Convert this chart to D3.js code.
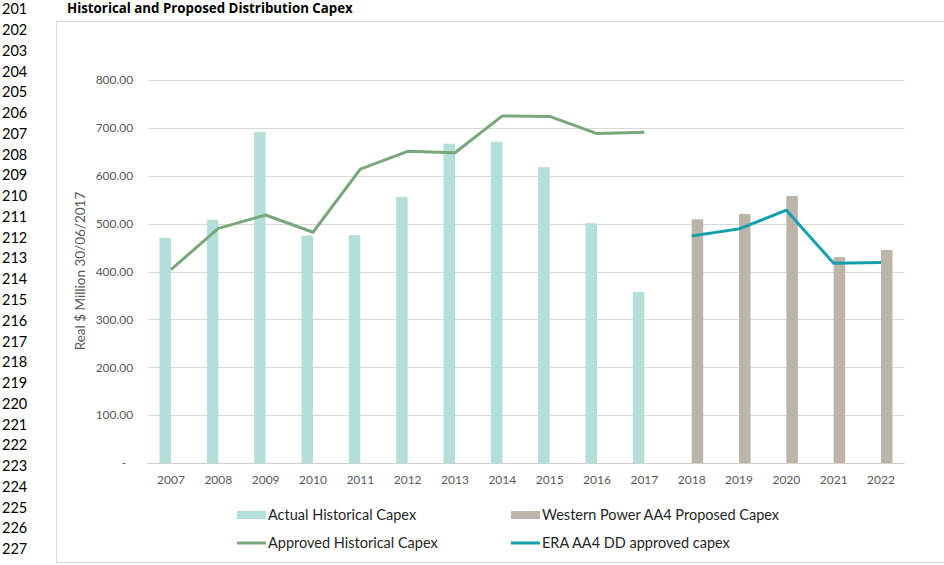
<!DOCTYPE html>
<html>
<head>
<meta charset="utf-8">
<script src="https://cdn.jsdelivr.net/npm/d3@7"></script>
<style>
  html, body { margin: 0; padding: 0; background: #fff; }
  svg { display: block; font-family: Lato, "Open Sans", sans-serif; }
</style>
</head>
<body>
<svg id="chart" width="944" height="565"></svg>
<script>
// Financial years shown on the category axis
const years = ["2007","2008","2009","2010","2011","2012","2013","2014","2015","2016","2017","2018","2019","2020","2021","2022"];

// Actual historical distribution capex (2007–2017)
const actualCapex = [470, 508, 691, 475, 476, 556, 667, 671, 618, 501, 357, null, null, null, null, null];

// Western Power AA4 proposed capex (2018–2022)
const proposedCapex = [null, null, null, null, null, null, null, null, null, null, null, 509, 520, 558, 430, 445];

// Approved historical capex (2007–2017)
const approvedCapex = [404, 490, 518, 482, 614, 651, 648, 725, 724, 688, 691, null, null, null, null, null];

// ERA AA4 draft decision approved capex (2018–2022)
const eraCapex = [null, null, null, null, null, null, null, null, null, null, null, 474, 489, 528, 417, 419];

// Value axis ticks
const yTicks = [0, 100, 200, 300, 400, 500, 600, 700, 800];

// Document line numbers in the left margin
const lineNumbers = d3.range(201, 228);

const svg = d3.select("#chart");

// Margin line numbers
svg.append("g")
  .selectAll("text")
  .data(lineNumbers)
  .join("text")
  .attr("x", 2)
  .attr("y", (d, i) => 9 + i * 20.77)
  .attr("dy", "0.36em")
  .attr("font-size", 14.5)
  .attr("fill", "#000")
  .text(d => d);

// Title
svg.append("text")
  .attr("x", 67)
  .attr("y", 8.5)
  .attr("dy", "0.36em")
  .attr("font-family", "'Open Sans', Lato, sans-serif")
  .attr("font-size", 13.3)
  .attr("font-weight", "bold")
  .attr("fill", "#000")
  .text("Historical and Proposed Distribution Capex");

// Chart frame
svg.append("rect")
  .attr("x", 56.5)
  .attr("y", 21.5)
  .attr("width", 900)
  .attr("height", 541)
  .attr("fill", "none")
  .attr("stroke", "#d9d9d9");

const plot = { left: 147.3, right: 904.7, top: 80, bottom: 463 };

const x0 = d3.scaleBand()
  .domain(years)
  .range([plot.left, plot.right])
  .paddingInner(0.514)
  .paddingOuter(0.257);

const x1 = d3.scaleBand()
  .domain(["actual", "proposed"])
  .range([0, x0.bandwidth()]);

const y = d3.scaleLinear()
  .domain([0, 800])
  .range([plot.bottom, plot.top]);

const cx = d => x0(d) + x0.bandwidth() / 2;

// Horizontal gridlines
svg.append("g")
  .selectAll("line")
  .data(yTicks.filter(t => t > 0))
  .join("line")
  .attr("x1", plot.left)
  .attr("x2", plot.right)
  .attr("y1", d => Math.round(y(d)) + 0.5)
  .attr("y2", d => Math.round(y(d)) + 0.5)
  .attr("stroke", "#d9d9d9")
  .attr("stroke-width", 1);

// Value axis
const yAxis = svg.append("g")
  .attr("transform", `translate(${plot.left - 14},0)`)
  .call(d3.axisLeft(y).tickValues(yTicks).tickSize(0).tickPadding(0)
    .tickFormat(d => d === 0 ? "-" : d3.format(".2f")(d)));
yAxis.select(".domain").remove();
yAxis.selectAll("text")
  .attr("font-family", "Lato, 'Open Sans', sans-serif")
  .attr("font-size", 12)
  .attr("fill", "#595959");
yAxis.selectAll(".tick").filter(d => d === 0).select("text").attr("x", -7);

// Axis title
svg.append("text")
  .attr("transform", "translate(85,271) rotate(-90)")
  .attr("text-anchor", "middle")
  .attr("font-size", 13.5)
  .attr("fill", "#595959")
  .text("Real $ Million 30/06/2017");

// Columns
const barData = years.map((yr, i) => ({ yr, actual: actualCapex[i], proposed: proposedCapex[i] }));

svg.append("g")
  .selectAll("rect")
  .data(barData.filter(d => d.actual != null))
  .join("rect")
  .attr("x", d => x0(d.yr) + x1("actual"))
  .attr("width", x1.bandwidth())
  .attr("y", d => y(d.actual))
  .attr("height", d => y(0) - y(d.actual))
  .attr("fill", "#b3dfdb");

svg.append("g")
  .selectAll("rect")
  .data(barData.filter(d => d.proposed != null))
  .join("rect")
  .attr("x", d => x0(d.yr) + x1("proposed"))
  .attr("width", x1.bandwidth())
  .attr("y", d => y(d.proposed))
  .attr("height", d => y(0) - y(d.proposed))
  .attr("fill", "#bdb4a9");

// Category axis baseline
svg.append("line")
  .attr("x1", plot.left)
  .attr("x2", plot.right)
  .attr("y1", Math.round(y(0)) + 0.5)
  .attr("y2", Math.round(y(0)) + 0.5)
  .attr("stroke", "#d0d0d0");

// Category axis labels
const xAxis = svg.append("g")
  .attr("transform", `translate(0,${y(0)})`)
  .call(d3.axisBottom(x0).tickSize(0).tickPadding(12));
xAxis.select(".domain").remove();
xAxis.selectAll("text")
  .attr("font-family", "Lato, 'Open Sans', sans-serif")
  .attr("font-size", 12)
  .attr("fill", "#595959");

// Lines
const line = d3.line()
  .defined(d => d.v != null)
  .x(d => cx(d.yr))
  .y(d => y(d.v));

svg.append("path")
  .datum(years.map((yr, i) => ({ yr, v: approvedCapex[i] })))
  .attr("d", line)
  .attr("fill", "none")
  .attr("stroke", "#79a77b")
  .attr("stroke-width", 3)
  .attr("stroke-linejoin", "round");

svg.append("path")
  .datum(years.map((yr, i) => ({ yr, v: eraCapex[i] })))
  .attr("d", line)
  .attr("fill", "none")
  .attr("stroke", "#12a0ae")
  .attr("stroke-width", 3)
  .attr("stroke-linejoin", "round");

// Legend
const legendItems = [
  { label: "Actual Historical Capex", type: "rect", color: "#b3dfdb", x: 237, y: 515 },
  { label: "Western Power AA4 Proposed Capex", type: "rect", color: "#bdb4a9", x: 511, y: 515 },
  { label: "Approved Historical Capex", type: "line", color: "#79a77b", x: 237, y: 543 },
  { label: "ERA AA4 DD approved capex", type: "line", color: "#12a0ae", x: 511, y: 543 }
];

const legend = svg.append("g")
  .selectAll("g")
  .data(legendItems)
  .join("g")
  .attr("transform", d => `translate(${d.x},${d.y})`);

legend.filter(d => d.type === "rect")
  .append("rect")
  .attr("x", 0).attr("y", -4)
  .attr("width", 29).attr("height", 8)
  .attr("fill", d => d.color);

legend.filter(d => d.type === "line")
  .append("line")
  .attr("x1", 0).attr("x2", 29)
  .attr("y1", 0).attr("y2", 0)
  .attr("stroke", d => d.color)
  .attr("stroke-width", 3);

legend.append("text")
  .attr("x", 31)
  .attr("dy", "0.36em")
  .attr("font-size", 14.5)
  .attr("fill", "#262626")
  .text(d => d.label);
</script>
</body>
</html>
